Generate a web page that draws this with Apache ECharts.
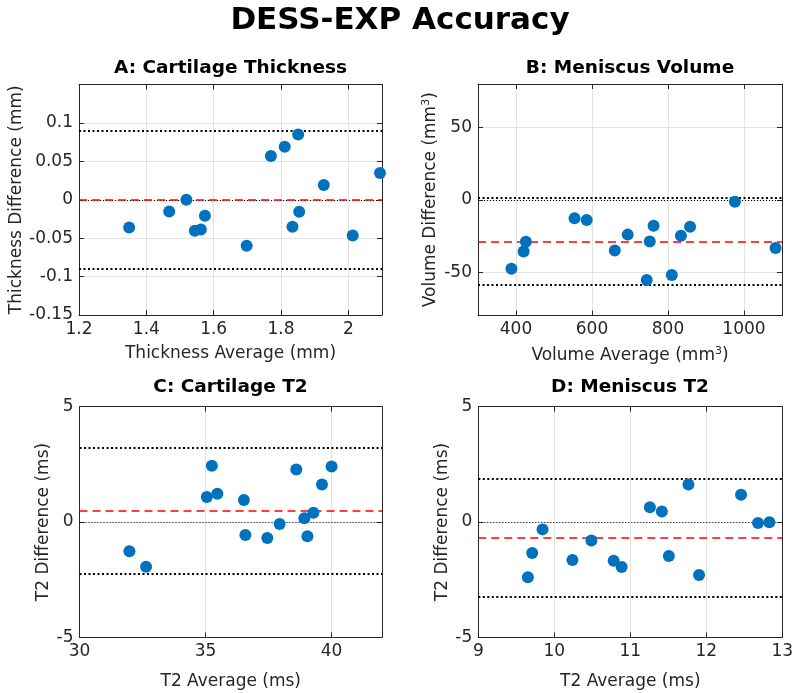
<!DOCTYPE html>
<html><head><meta charset="utf-8">
<script src="https://cdn.jsdelivr.net/npm/echarts@6/dist/echarts.min.js"></script>
<style>html,body{margin:0;padding:0;background:#fff}#c{width:800px;height:693px}</style>
</head><body><div id="c"></div>
<script>
// ---- data ----
const aX = [1.349,1.468,1.519,1.544,1.562,1.574,1.698,1.770,1.811,1.851,1.834,1.854,1.927,2.013,2.094];
const aY = [-0.036,-0.0153,0,-0.0405,-0.0387,-0.0209,-0.060,0.057,0.069,0.085,-0.035,-0.0157,0.0192,-0.0466,0.0348];
const bX = [388,420,426,554,586,660,694,744,752,762,810,834,858,976,1083];
const bY = [-47.7,-35.8,-29.1,-12.8,-14.0,-35.1,-24.1,-55.4,-28.9,-17.9,-52.0,-24.8,-18.6,-1.4,-33.4];
const cX = [31.98,32.64,35.05,35.25,35.47,36.52,36.58,37.45,37.94,38.6,38.92,39.04,39.28,39.62,40.0];
const cY = [-1.27,-1.94,1.08,2.44,1.23,0.95,-0.56,-0.69,-0.09,2.28,0.16,-0.62,0.40,1.63,2.41];
const dX = [9.652,9.709,9.845,10.239,10.488,10.781,10.886,11.258,11.415,11.507,11.765,11.905,12.457,12.68,12.83];
const dY = [-2.40,-1.34,-0.32,-1.65,-0.80,-1.68,-1.95,0.64,0.46,-1.47,1.63,-2.30,1.18,-0.04,-0.01];

// mean, upper LoA, lower LoA
const aLines = [-0.003, 0.088, -0.094];
const bLines = [-28.7, 1.5, -58.9];
const cLines = [0.49, 3.24, -2.26];
const dLines = [-0.67, 1.88, -3.22];

const aXRange = [1.2, 2.1], aYRange = [-0.15, 0.15];
const bXRange = [300, 1100], bYRange = [-80, 80];
const cXRange = [30, 42], cYRange = [-5, 5];
const dXRange = [9, 13], dYRange = [-5, 5];

const aXTicks = [1.2,1.4,1.6,1.8,2.0], aYTicks = [-0.15,-0.1,-0.05,0,0.05,0.1];
const bXTicks = [400,600,800,1000], bYTicks = [-50,0,50];
const cXTicks = [30,35,40], cYTicks = [-5,0,5];
const dXTicks = [9,10,11,12,13], dYTicks = [-5,0,5];

const titles = ['A: Cartilage Thickness','B: Meniscus Volume','C: Cartilage T2','D: Meniscus T2'];
const xNames = ['Thickness Average (mm)','Volume Average (mm{sup|3})','T2 Average (ms)','T2 Average (ms)'];
const yNames = ['Thickness Difference (mm)','Volume Difference (mm{sup|3})','T2 Difference (ms)','T2 Difference (ms)'];

// ---- layout ----
const FONT = 'DejaVu Sans';
const AX = '#262626';
const grids = [
  {left:79, top:84.5, width:303, height:230.5},
  {left:478, top:84, width:304, height:231.5},
  {left:79.5, top:406.7, width:302.5, height:230.6},
  {left:478.3, top:406.7, width:304, height:230.6}
];
const panels = [
  {x:aX,y:aY,lines:aLines,xr:aXRange,yr:aYRange,xt:aXTicks,yt:aYTicks},
  {x:bX,y:bY,lines:bLines,xr:bXRange,yr:bYRange,xt:bXTicks,yt:bYTicks},
  {x:cX,y:cY,lines:cLines,xr:cXRange,yr:cYRange,xt:cXTicks,yt:cYTicks},
  {x:dX,y:dY,lines:dLines,xr:dXRange,yr:dYRange,xt:dXTicks,yt:dYTicks}
];
const yNameGap = [50, 37, 27, 26];
const xNameGap = [30, 30, 36, 36];
const fmt = v => String(+(+v).toFixed(4));
const rich = {sup:{fontSize:11, fontFamily:FONT, color:AX, padding:[0,0,9,0]}};

const xAxis = [], yAxis = [], series = [];
panels.forEach((p,i)=>{
  const base = (ticks, r, pos, label)=>({
    type:'value', gridIndex:i, min:r[0], max:r[1], position:pos,
    axisLine:{show:true, onZero:false, lineStyle:{color:AX, width:1}},
    axisTick:{show:true, inside:true, length:5, customValues:ticks, lineStyle:{color:AX}},
    axisLabel:{show:label, customValues:ticks, formatter:fmt, color:AX, fontSize:17, fontFamily:FONT, margin:6},
    splitLine:{show:label, lineStyle:{color:'#e3e3e3', width:1}}
  });
  const xa = base(p.xt, p.xr, 'bottom', true);
  xa.name = xNames[i]; xa.nameLocation='middle'; xa.nameGap=xNameGap[i];
  xa.nameTextStyle = {fontSize:17, fontFamily:FONT, color:AX, rich};
  const ya = base(p.yt, p.yr, 'left', true);
  ya.name = yNames[i]; ya.nameLocation='middle'; ya.nameGap=yNameGap[i];
  ya.nameTextStyle = {fontSize:17, fontFamily:FONT, color:AX, rich};
  xAxis.push(xa); yAxis.push(ya);
  xAxis.push(base(p.xt, p.xr, 'top', false));
  yAxis.push(base(p.yt, p.yr, 'right', false));
  const xi = xAxis.length-2, yi = yAxis.length-2;
  series.push({
    type:'scatter', xAxisIndex:xi, yAxisIndex:yi,
    data:p.x.map((v,k)=>[v,p.y[k]]),
    symbolSize:12, itemStyle:{color:'#0072BD', opacity:1},
    z:5,
    markLine:{
      silent:true, symbol:'none', label:{show:false}, animation:false,
      data:[
        {yAxis:0, lineStyle:{color:'#000', type:[1,2], width:1.2}},
        {yAxis:p.lines[1], lineStyle:{color:'#000', type:[2,2.5], width:2.2}},
        {yAxis:p.lines[2], lineStyle:{color:'#000', type:[2,2.5], width:2.2}},
        {yAxis:p.lines[0], lineStyle:{color:'#ff0000', type:[8,5], width:1.5}}
      ]
    }
  });
});

const titlePos = [[230.5,68],[630,68],[230.5,387],[630,387]];
const graphic = [
  {type:'text', x:400, y:21, style:{text:'DESS-EXP Accuracy', font:'bold 31px "DejaVu Sans"', fill:'#000', align:'center', verticalAlign:'middle'}}
].concat(titles.map((t,i)=>({type:'text', x:titlePos[i][0], y:titlePos[i][1], style:{text:t, font:'bold 18.5px "DejaVu Sans"', fill:'#000', align:'center', verticalAlign:'middle'}})));

const chart = echarts.init(document.getElementById('c'), null, {renderer:'canvas'});
chart.setOption({animation:false, backgroundColor:'#fff', grid:grids, xAxis, yAxis, series, graphic});
</script></body></html>
